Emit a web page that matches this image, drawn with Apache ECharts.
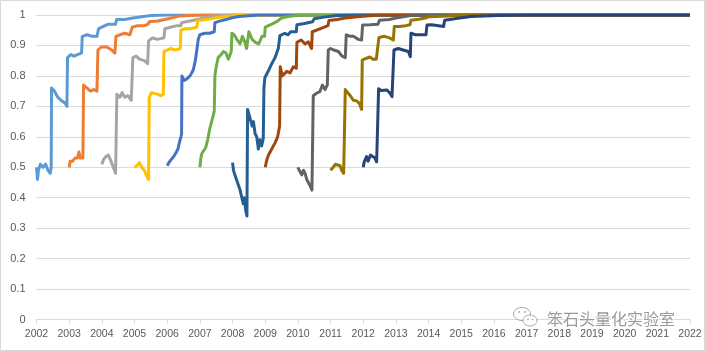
<!DOCTYPE html>
<html>
<head>
<meta charset="utf-8">
<script src="https://cdn.jsdelivr.net/npm/echarts@6/dist/echarts.min.js"></script>
<style>html,body{margin:0;padding:0;background:#fff;}#c{width:705px;height:351px;}</style>
</head>
<body>
<div id="c"></div>
<script>
// Tick labels
var xMin = 2002, xMax = 2022;
var yTickLabels = ['0','0.1','0.2','0.3','0.4','0.5','0.6','0.7','0.8','0.9','1'];

// Series (x = year, y = value)
var s2002 = [[2002.0,0.50],[2002.03,0.46],[2002.06,0.49],[2002.12,0.51],[2002.2,0.50],[2002.28,0.51],[2002.35,0.49],[2002.42,0.48],[2002.45,0.50],[2002.46,0.76],[2002.55,0.75],[2002.65,0.73],[2002.75,0.72],[2002.88,0.71],[2002.93,0.70],[2002.95,0.86],[2003.05,0.87],[2003.15,0.865],[2003.25,0.87],[2003.38,0.875],[2003.40,0.93],[2003.55,0.935],[2003.7,0.93],[2003.85,0.93],[2003.9,0.955],[2004.0,0.96],[2004.2,0.97],[2004.42,0.97],[2004.45,0.985],[2004.7,0.985],[2004.95,0.99],[2005.0,0.995],[2005.5,0.998],[2006,1.0],[2022,1.0]];
var s2003 = [[2003.0,0.50],[2003.03,0.52],[2003.1,0.52],[2003.18,0.53],[2003.25,0.53],[2003.3,0.55],[2003.34,0.53],[2003.42,0.53],[2003.44,0.77],[2003.55,0.76],[2003.65,0.75],[2003.75,0.755],[2003.85,0.75],[2003.88,0.885],[2003.98,0.895],[2004.15,0.895],[2004.3,0.885],[2004.4,0.875],[2004.43,0.93],[2004.55,0.935],[2004.7,0.94],[2004.86,0.935],[2004.93,0.96],[2005.1,0.965],[2005.3,0.965],[2005.42,0.97],[2005.45,0.978],[2005.7,0.98],[2005.93,0.985],[2005.95,0.99],[2006.4,0.997],[2007,1.0],[2022,1.0]];
var s2004 = [[2004.0,0.51],[2004.05,0.525],[2004.12,0.535],[2004.2,0.54],[2004.28,0.52],[2004.35,0.50],[2004.42,0.48],[2004.45,0.475],[2004.46,0.74],[2004.55,0.73],[2004.62,0.745],[2004.7,0.73],[2004.8,0.735],[2004.9,0.72],[2004.95,0.86],[2005.05,0.865],[2005.15,0.855],[2005.3,0.85],[2005.4,0.84],[2005.43,0.915],[2005.55,0.925],[2005.7,0.92],[2005.9,0.925],[2005.93,0.955],[2006.1,0.96],[2006.3,0.965],[2006.42,0.965],[2006.44,0.975],[2006.7,0.98],[2006.92,0.985],[2006.95,0.99],[2007.4,0.997],[2008,1.0],[2022,1.0]];
var s2005 = [[2005.0,0.50],[2005.07,0.505],[2005.15,0.515],[2005.22,0.50],[2005.3,0.49],[2005.38,0.47],[2005.43,0.46],[2005.45,0.73],[2005.52,0.745],[2005.58,0.75],[2005.7,0.74],[2005.8,0.735],[2005.88,0.74],[2005.9,0.88],[2006.0,0.885],[2006.1,0.89],[2006.25,0.885],[2006.4,0.89],[2006.42,0.95],[2006.55,0.955],[2006.7,0.955],[2006.9,0.96],[2006.94,0.982],[2007.2,0.985],[2007.45,0.99],[2007.9,0.997],[2008.5,1.0],[2022,1.0]];
var s2006 = [[2006.0,0.505],[2006.05,0.515],[2006.12,0.525],[2006.2,0.535],[2006.28,0.55],[2006.33,0.56],[2006.37,0.58],[2006.42,0.60],[2006.44,0.61],[2006.45,0.80],[2006.52,0.785],[2006.6,0.79],[2006.7,0.80],[2006.8,0.82],[2006.86,0.85],[2006.9,0.88],[2006.95,0.92],[2007.0,0.935],[2007.15,0.94],[2007.3,0.94],[2007.44,0.945],[2007.46,0.975],[2007.6,0.98],[2007.8,0.985],[2007.95,0.99],[2008.2,0.995],[2008.8,1.0],[2022,1.0]];
var s2007 = [[2007.0,0.50],[2007.03,0.53],[2007.06,0.545],[2007.12,0.555],[2007.18,0.565],[2007.24,0.59],[2007.3,0.625],[2007.36,0.65],[2007.41,0.67],[2007.44,0.685],[2007.46,0.80],[2007.5,0.83],[2007.56,0.86],[2007.65,0.87],[2007.72,0.88],[2007.8,0.875],[2007.87,0.855],[2007.92,0.85],[2007.96,0.88],[2007.98,0.94],[2008.05,0.935],[2008.13,0.92],[2008.23,0.905],[2008.3,0.93],[2008.38,0.91],[2008.43,0.89],[2008.5,0.945],[2008.6,0.92],[2008.7,0.91],[2008.8,0.905],[2008.9,0.93],[2008.98,0.93],[2009.0,0.96],[2009.2,0.97],[2009.35,0.978],[2009.5,0.99],[2009.7,0.995],[2010.1,1.0],[2022,1.0]];
var s2008 = [[2008.0,0.515],[2008.03,0.49],[2008.07,0.475],[2008.12,0.46],[2008.17,0.455],[2008.23,0.425],[2008.28,0.43],[2008.33,0.38],[2008.36,0.40],[2008.4,0.36],[2008.44,0.34],[2008.46,0.69],[2008.5,0.675],[2008.55,0.655],[2008.6,0.635],[2008.64,0.65],[2008.69,0.61],[2008.74,0.60],[2008.79,0.56],[2008.84,0.59],[2008.89,0.57],[2008.94,0.595],[2008.96,0.76],[2008.99,0.795],[2009.09,0.815],[2009.2,0.84],[2009.3,0.86],[2009.4,0.89],[2009.45,0.932],[2009.6,0.94],[2009.7,0.935],[2009.78,0.945],[2009.95,0.945],[2009.97,0.968],[2010.2,0.972],[2010.45,0.978],[2010.5,0.988],[2010.8,0.993],[2011.2,0.998],[2011.8,1.0],[2022,1.0]];
var s2009 = [[2009.0,0.50],[2009.05,0.525],[2009.1,0.54],[2009.2,0.56],[2009.3,0.58],[2009.38,0.60],[2009.44,0.635],[2009.46,0.83],[2009.52,0.80],[2009.56,0.795],[2009.66,0.815],[2009.76,0.81],[2009.86,0.83],[2009.95,0.825],[2009.97,0.91],[2010.1,0.918],[2010.22,0.905],[2010.32,0.912],[2010.42,0.89],[2010.44,0.945],[2010.57,0.95],[2010.75,0.958],[2010.92,0.965],[2010.95,0.982],[2011.2,0.985],[2011.45,0.99],[2011.9,0.995],[2012.5,1.0],[2022,1.0]];
var s2010 = [[2010.0,0.50],[2010.04,0.49],[2010.08,0.495],[2010.12,0.475],[2010.17,0.49],[2010.22,0.48],[2010.27,0.46],[2010.32,0.45],[2010.37,0.44],[2010.43,0.425],[2010.46,0.42],[2010.47,0.735],[2010.57,0.743],[2010.67,0.748],[2010.75,0.77],[2010.83,0.755],[2010.9,0.77],[2010.93,0.885],[2011.0,0.89],[2011.1,0.885],[2011.24,0.88],[2011.35,0.865],[2011.45,0.86],[2011.48,0.935],[2011.6,0.93],[2011.7,0.93],[2011.85,0.92],[2011.95,0.918],[2011.98,0.967],[2012.2,0.968],[2012.45,0.97],[2012.5,0.983],[2012.8,0.985],[2013.0,0.99],[2013.45,0.998],[2014,1.0],[2022,1.0]];
var s2011 = [[2011.0,0.49],[2011.08,0.50],[2011.15,0.51],[2011.2,0.515],[2011.29,0.505],[2011.34,0.49],[2011.4,0.48],[2011.44,0.475],[2011.45,0.755],[2011.54,0.743],[2011.6,0.735],[2011.7,0.72],[2011.8,0.718],[2011.88,0.71],[2011.95,0.69],[2011.97,0.852],[2012.1,0.858],[2012.2,0.862],[2012.3,0.855],[2012.4,0.855],[2012.46,0.86],[2012.48,0.926],[2012.65,0.93],[2012.8,0.925],[2012.92,0.918],[2012.95,0.962],[2013.1,0.962],[2013.3,0.965],[2013.43,0.968],[2013.46,0.983],[2013.7,0.986],[2013.9,0.99],[2014.0,0.994],[2014.6,0.997],[2015.05,1.0],[2022,1.0]];
var s2012 = [[2012.0,0.50],[2012.03,0.518],[2012.1,0.535],[2012.15,0.52],[2012.22,0.54],[2012.28,0.535],[2012.36,0.53],[2012.41,0.518],[2012.45,0.515],[2012.47,0.758],[2012.55,0.752],[2012.61,0.748],[2012.72,0.754],[2012.82,0.743],[2012.88,0.732],[2012.92,0.73],[2012.94,0.885],[2013.07,0.89],[2013.22,0.885],[2013.38,0.88],[2013.44,0.863],[2013.46,0.94],[2013.6,0.935],[2013.75,0.935],[2013.92,0.935],[2013.95,0.967],[2014.1,0.968],[2014.3,0.965],[2014.46,0.962],[2014.49,0.983],[2014.7,0.986],[2014.95,0.99],[2014.97,0.994],[2015.3,0.995],[2015.7,0.997],[2016.3,0.999],[2017.0,1.0],[2022,1.0]];

var seriesData = [s2002,s2003,s2004,s2005,s2006,s2007,s2008,s2009,s2010,s2011,s2012];
var seriesNames = ['2002','2003','2004','2005','2006','2007','2008','2009','2010','2011','2012'];
var seriesColors = ['#5B9BD5','#ED7D31','#A5A5A5','#FFC000','#4472C4','#70AD47','#255E91','#9E480E','#636363','#997300','#264478'];

var chart = echarts.init(document.getElementById('c'), null, {renderer:'canvas'});
var series = seriesData.map(function(d, i){
  return {
    name: seriesNames[i], type:'line', data:d, symbol:'none', smooth:false,
    lineStyle:{color:seriesColors[i], width:3, join:'round'},
    itemStyle:{color:seriesColors[i]}, animation:false, z:2+i
  };
});
var labelFont = 'Liberation Sans';
chart.setOption({
  backgroundColor:'#ffffff',
  animation:false,
  grid:{left:36.5, right:15, top:15, bottom:31.5, containLabel:false},
  xAxis:{
    type:'value', min:xMin, max:xMax, interval:1,
    axisLine:{show:true, lineStyle:{color:'#D9D9D9', width:1}},
    axisTick:{show:true, length:4, lineStyle:{color:'#D9D9D9'}},
    splitLine:{show:false},
    axisLabel:{color:'#595959', fontSize:10.5, fontFamily:labelFont, margin:9,
      formatter:function(v){return String(Math.round(v));}}
  },
  yAxis:{
    type:'value', min:0, max:1, interval:0.1,
    axisLine:{show:false}, axisTick:{show:false},
    splitLine:{show:true, lineStyle:{color:'#D9D9D9', width:1}},
    axisLabel:{color:'#595959', fontSize:11, fontFamily:labelFont, margin:11,
      formatter:function(v){return yTickLabels[Math.round(v*10)];}}
  },
  series: series,
  graphic:[
    {type:'rect', shape:{x:0.5,y:0.5,width:704,height:350}, style:{fill:null, stroke:'#D9D9D9', lineWidth:1}, silent:true, z:100},
    {type:'ellipse', shape:{cx:522,cy:314,rx:8.5,ry:6.5}, style:{fill:'rgba(255,255,255,0.6)', stroke:'#A6A6A6', lineWidth:1}, z:101},
    {type:'ellipse', shape:{cx:530,cy:320.5,rx:7,ry:5.5}, style:{fill:'rgba(255,255,255,0.8)', stroke:'#A6A6A6', lineWidth:1}, z:102},
    {type:'circle', shape:{cx:519,cy:312,r:0.9}, style:{fill:'#A6A6A6'}, z:103},
    {type:'circle', shape:{cx:525,cy:312,r:0.9}, style:{fill:'#A6A6A6'}, z:103},
    {type:'circle', shape:{cx:528,cy:319.5,r:0.8}, style:{fill:'#A6A6A6'}, z:103},
    {type:'circle', shape:{cx:532.5,cy:319.5,r:0.8}, style:{fill:'#A6A6A6'}, z:103},
    {type:'text', left:546, top:310, style:{text:'笨石头量化实验室', font:'16px "Noto Sans CJK SC"', fill:'#9A9A9A', stroke:'#ffffff', lineWidth:2}, z:104}
  ]
});
</script>
</body>
</html>
